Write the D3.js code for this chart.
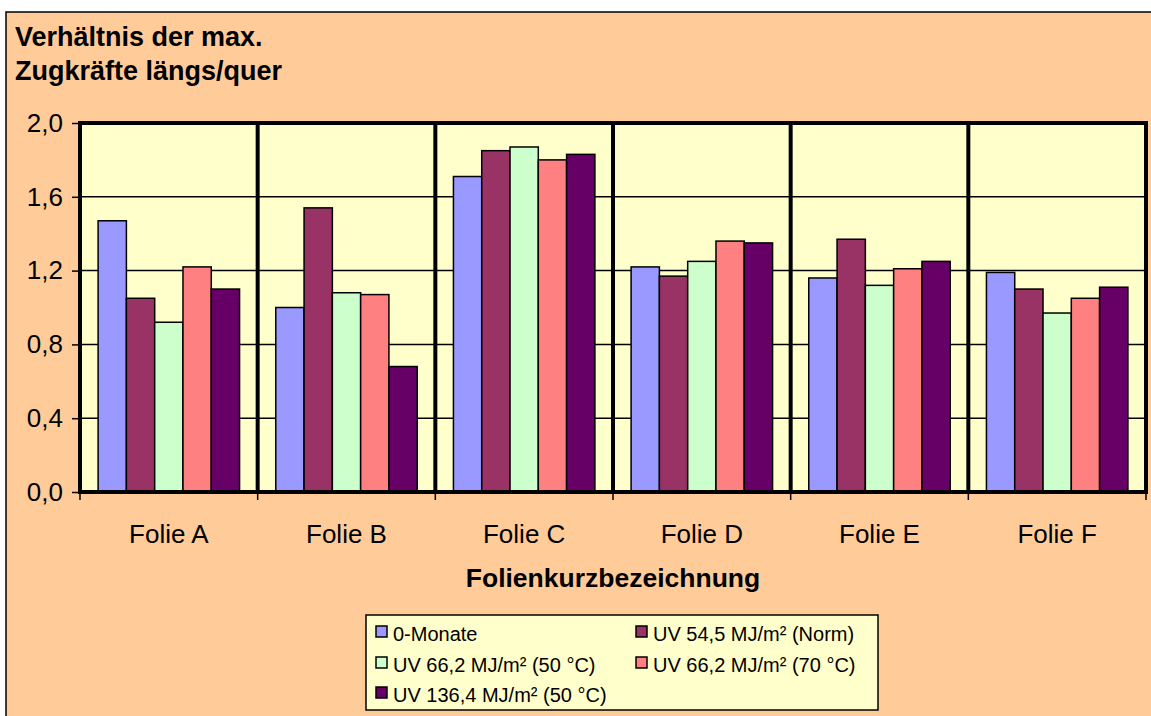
<!DOCTYPE html>
<html>
<head>
<meta charset="utf-8">
<script src="https://cdn.jsdelivr.net/npm/d3@7"></script>
<style>
  html, body { margin: 0; padding: 0; background: #fff; }
  svg { display: block; font-family: "Liberation Sans", Arial, sans-serif; }
</style>
</head>
<body>
<svg id="chart" width="1151" height="716"></svg>
<script>
// Categories (film samples)
const categories = ["Folie A", "Folie B", "Folie C", "Folie D", "Folie E", "Folie F"];

// Series names and colours
const seriesNames = [
  "0-Monate",
  "UV 54,5 MJ/m² (Norm)",
  "UV 66,2 MJ/m² (50 °C)",
  "UV 66,2 MJ/m² (70 °C)",
  "UV 136,4 MJ/m² (50 °C)"
];
const seriesColors = ["#9999FF", "#993366", "#CCFFCC", "#FF8080", "#660066"];

// Ratio of max. tensile forces (lengthwise / crosswise), one array per series
const s0Monate   = [1.47, 1.00, 1.71, 1.22, 1.16, 1.19];
const sUV545Norm = [1.05, 1.54, 1.85, 1.17, 1.37, 1.10];
const sUV662_50  = [0.92, 1.08, 1.87, 1.25, 1.12, 0.97];
const sUV662_70  = [1.22, 1.07, 1.80, 1.36, 1.21, 1.05];
const sUV1364_50 = [1.10, 0.68, 1.83, 1.35, 1.25, 1.11];
const seriesValues = [s0Monate, sUV545Norm, sUV662_50, sUV662_70, sUV1364_50];

// Y axis ticks
const yTicks = [0, 0.4, 0.8, 1.2, 1.6, 2.0];

const svg = d3.select("#chart");
const W = 1151, H = 716;

// Chart area background and frame
svg.append("rect").attr("x", 6).attr("y", 12).attr("width", W).attr("height", H)
  .attr("fill", "#FFCC99").attr("stroke", "#000").attr("stroke-width", 1.5);

const plot = { left: 80, right: 1146, top: 123, bottom: 492 };

const x0 = d3.scaleBand().domain(categories).range([plot.left, plot.right]).padding(0);
const x1 = d3.scaleBand().domain(d3.range(seriesNames.length))
  .range([0, x0.bandwidth()]).paddingOuter(0.64).paddingInner(0);
const y = d3.scaleLinear().domain([0, 2.0]).range([plot.bottom, plot.top]);

// Plot area
svg.append("rect").attr("x", plot.left).attr("y", plot.top)
  .attr("width", plot.right - plot.left).attr("height", plot.bottom - plot.top)
  .attr("fill", "#FFFFCC");

// Horizontal gridlines
svg.append("g").selectAll("line").data(yTicks.filter(d => d > 0 && d < 2)).join("line")
  .attr("x1", plot.left).attr("x2", plot.right)
  .attr("y1", d => y(d)).attr("y2", d => y(d))
  .attr("stroke", "#000").attr("stroke-width", 1.5);

// Bars
const fmt = d3.format(".1f");
categories.forEach((cat, ci) => {
  const g = svg.append("g").attr("transform", `translate(${x0(cat)},0)`);
  seriesValues.forEach((vals, si) => {
    g.append("rect")
      .attr("x", x1(si)).attr("width", x1.bandwidth())
      .attr("y", y(vals[ci])).attr("height", y(0) - y(vals[ci]))
      .attr("fill", seriesColors[si]).attr("stroke", "#000").attr("stroke-width", 1.5);
  });
});

// Category separators (vertical gridlines)
const seps = categories.map(c => x0(c)).concat([plot.right]);
svg.append("g").selectAll("line").data(seps).join("line")
  .attr("x1", d => d).attr("x2", d => d)
  .attr("y1", plot.top).attr("y2", plot.bottom)
  .attr("stroke", "#000").attr("stroke-width", 4);

// Plot frame top / bottom
svg.append("line").attr("x1", plot.left - 2).attr("x2", plot.right + 2)
  .attr("y1", plot.top).attr("y2", plot.top).attr("stroke", "#000").attr("stroke-width", 4);
svg.append("line").attr("x1", plot.left - 2).attr("x2", plot.right + 2)
  .attr("y1", plot.bottom).attr("y2", plot.bottom).attr("stroke", "#000").attr("stroke-width", 4);

// Y axis
const yAxis = d3.axisLeft(y).tickValues(yTicks).tickFormat(d => fmt(d).replace(".", ","))
  .tickSize(8).tickPadding(9);
const ya = svg.append("g").attr("transform", `translate(${plot.left},0)`).call(yAxis);
ya.select(".domain").remove();
ya.selectAll(".tick line").attr("stroke", "#000").attr("stroke-width", 1.5);
ya.selectAll(".tick text").attr("font-size", 26).attr("fill", "#000")
  .attr("font-family", "Liberation Sans, Arial, sans-serif");

// X axis ticks at category boundaries
svg.append("g").selectAll("line").data(seps).join("line")
  .attr("x1", d => d).attr("x2", d => d)
  .attr("y1", plot.bottom).attr("y2", plot.bottom + 8)
  .attr("stroke", "#000").attr("stroke-width", 1.5);

// Category labels
svg.append("g").selectAll("text").data(categories).join("text")
  .attr("x", d => x0(d) + x0.bandwidth() / 2).attr("y", 543)
  .attr("text-anchor", "middle").attr("font-size", 26).attr("fill", "#000")
  .text(d => d);

// Axis title
svg.append("text").attr("x", (plot.left + plot.right) / 2).attr("y", 587)
  .attr("text-anchor", "middle").attr("font-size", 26.5).attr("font-weight", "bold")
  .text("Folienkurzbezeichnung");

// Value axis title
const title = svg.append("text").attr("font-size", 27).attr("font-weight", "bold");
title.append("tspan").attr("x", 15).attr("y", 46).text("Verhältnis der max.");
title.append("tspan").attr("x", 15).attr("y", 80).text("Zugkräfte längs/quer");

// Legend
const lg = svg.append("g");
lg.append("rect").attr("x", 366).attr("y", 615).attr("width", 512).attr("height", 95)
  .attr("fill", "#FFFFCC").attr("stroke", "#000").attr("stroke-width", 1.5);
const legPos = [[376, 632], [636, 632], [376, 663], [636, 663], [376, 693]];
seriesNames.forEach((name, i) => {
  const [lx, ly] = legPos[i];
  lg.append("rect").attr("x", lx).attr("y", ly - 6).attr("width", 11).attr("height", 11)
    .attr("fill", seriesColors[i]).attr("stroke", "#000").attr("stroke-width", 1.5);
  lg.append("text").attr("x", lx + 17).attr("y", ly + 9).attr("font-size", 20)
    .text(name);
});
</script>
</body>
</html>
